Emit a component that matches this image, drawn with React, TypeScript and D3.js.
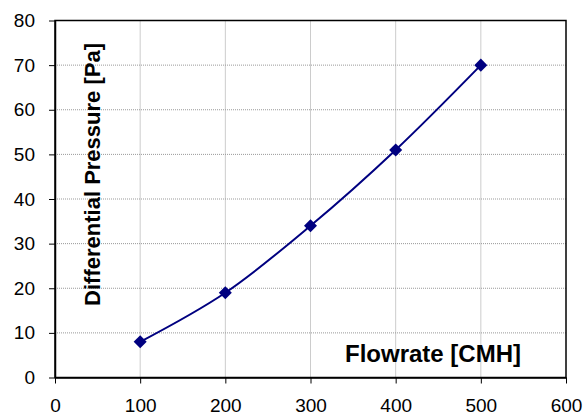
import React, { useEffect, useRef } from 'react';
import * as d3 from 'd3';

const flowrate = [100, 200, 300, 400, 500];
const pressure = [8, 19, 34, 51, 70];
const xTicks = [0, 100, 200, 300, 400, 500, 600];
const yTicks = [0, 10, 20, 30, 40, 50, 60, 70, 80];

const App: React.FC = () => {
  const svgRef = useRef<SVGSVGElement>(null);

  useEffect(() => {
    if (!svgRef.current) return;
    const width = 587;
    const height = 415;
    const margin = { top: 20.5, right: 21, bottom: 37.5, left: 55 };
    const innerW = width - margin.left - margin.right;
    const innerH = height - margin.top - margin.bottom;
    const font = 'Arial, "Liberation Sans", sans-serif';

    d3.select(svgRef.current).selectAll('*').remove();

    const svg = d3.select(svgRef.current)
      .attr('width', width)
      .attr('height', height)
      .style('font-family', font);

    const g = svg.append('g').attr('transform', `translate(${margin.left},${margin.top})`);

    const x = d3.scaleLinear().domain([0, 600]).range([0, innerW]);
    const y = d3.scaleLinear().domain([0, 80]).range([innerH, 0]);

    // Grid
    g.selectAll('.vgrid')
      .data(xTicks.slice(1, -1))
      .enter()
      .append('line')
      .attr('x1', d => x(d)).attr('x2', d => x(d))
      .attr('y1', 0).attr('y2', innerH)
      .attr('stroke', '#999')
      .attr('stroke-dasharray', '1,1');

    g.selectAll('.hgrid')
      .data(yTicks.slice(1, -1))
      .enter()
      .append('line')
      .attr('x1', 0).attr('x2', innerW)
      .attr('y1', d => y(d)).attr('y2', d => y(d))
      .attr('stroke', '#999')
      .attr('stroke-dasharray', '1,1');

    // Border
    g.append('rect')
      .attr('width', innerW)
      .attr('height', innerH)
      .attr('fill', 'none')
      .attr('stroke', '#000')
      .attr('stroke-width', 1.5);

    // Axes
    const xAxis = g.append('g')
      .attr('transform', `translate(0,${innerH})`)
      .call(d3.axisBottom(x).tickValues(xTicks).tickSize(6).tickSizeOuter(0).tickFormat(d3.format('d')));
    const yAxis = g.append('g')
      .call(d3.axisLeft(y).tickValues(yTicks).tickSize(6).tickSizeOuter(0).tickFormat(d3.format('d')));

    [xAxis, yAxis].forEach(a => {
      a.attr('font-family', font).attr('font-size', 19);
      a.select('.domain').attr('stroke', '#000').attr('stroke-width', 1.5);
      a.selectAll('.tick line').attr('stroke', '#000').attr('stroke-width', 1);
      a.selectAll('.tick text').attr('fill', '#000');
    });
    xAxis.selectAll('.tick text').attr('dy', null).attr('y', 34.5);
    yAxis.selectAll('.tick text').attr('x', -20);

    // Line
    const line = d3.line<number>()
      .x((_, i) => x(flowrate[i]))
      .y(d => y(d))
      .curve(d3.curveCatmullRom.alpha(0.5));

    g.append('path')
      .datum(pressure)
      .attr('fill', 'none')
      .attr('stroke', '#000080')
      .attr('stroke-width', 2)
      .attr('d', line);

    // Markers
    g.selectAll('.marker')
      .data(pressure)
      .enter()
      .append('path')
      .attr('class', 'marker')
      .attr('transform', (d, i) => `translate(${x(flowrate[i])},${y(d)}) rotate(45)`)
      .attr('d', 'M-4.6,-4.6H4.6V4.6H-4.6Z')
      .attr('fill', '#000080');

    // Axis titles
    g.append('text')
      .attr('transform', `translate(45,${y(45.5)}) rotate(-90)`)
      .attr('text-anchor', 'middle')
      .style('font-size', '22px')
      .style('font-weight', 'bold')
      .text('Differential Pressure [Pa]');

    g.append('text')
      .attr('x', x(443.8))
      .attr('y', y(3.5))
      .attr('text-anchor', 'middle')
      .style('font-size', '24px')
      .style('font-weight', 'bold')
      .text('Flowrate [CMH]');
  }, []);

  return (
    <div style={{ position: 'absolute', left: 0, top: 0 }}>
      <svg ref={svgRef} />
    </div>
  );
};

export default App;
